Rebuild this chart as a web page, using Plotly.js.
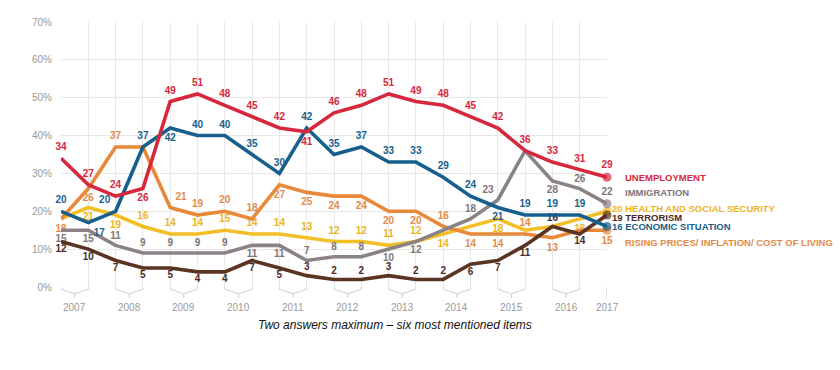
<!DOCTYPE html>
<html><head><meta charset="utf-8">
<script src="https://cdn.plot.ly/plotly-3.0.1.min.js"></script>
<style>html,body{margin:0;padding:0;background:#fff}</style>
</head><body><div id="chart" style="width:840px;height:370px"></div>
<script>
// Survey waves: two per year 2007-2016, one in 2017
const years = ['2007','2008','2009','2010','2011','2012','2013','2014','2015','2016','2017'];
const yTicks = [0,10,20,30,40,50,60,70];

const unemployment = [34,27,24,26,49,51,48,45,42,41,46,48,51,49,48,45,42,36,33,31,29];
const immigration  = [15,15,11,9,9,9,9,11,11,7,8,8,10,12,15,18,23,36,28,26,22];
const health       = [18,21,19,16,14,14,15,14,14,13,12,12,11,12,14,16,18,15,16,18,20];
const terrorism    = [12,10,7,5,5,4,4,7,5,3,2,2,3,2,2,6,7,11,16,14,19];
const economic     = [20,17,20,37,42,40,40,35,30,42,35,37,33,33,29,24,21,19,19,19,16];
const prices       = [18,26,37,37,21,19,20,18,27,25,24,24,20,20,16,14,14,14,13,15,15];

const names = ['UNEMPLOYMENT','IMMIGRATION','HEALTH AND SOCIAL SECURITY','TERRORISM','ECONOMIC SITUATION','RISING PRICES/ INFLATION/ COST OF LIVING'];

// label placement codes (style only); 'N' = value shown next to the series name
const posRed    = 't t t b t t t t t b t t t t t t t t t t t'.split(' ');
const posGrey   = 'b b t t t t t b b t t t b b - t tl - b t t'.split(' ');
const posYellow = '- b b t t t t t t t t t t t b - b - - b N'.split(' ');
const posBrown  = 'b b b b b b b b b t t t t t t b b b t b N'.split(' ');
const posBlue   = 't br tl t b t t t t t t t t t t t b t t t N'.split(' ');
const posOrange = 'b b t - tr t t t b b b b b b t b b t b - b'.split(' ');

const codeMap = {t:'top center', b:'bottom center', tl:'top left', tr:'top right', bl:'bottom left', br:'bottom right', r:'middle right', '-':'top center', N:'top center'};

const FONT = 'Liberation Sans, Arial, sans-serif';
const series = [
  {v: health, pos: posYellow, c:'#f3bf26', tc:'#eeb41c', name: names[2], ny: 3, ms: 7},
  {v: prices, pos: posOrange, c:'#e8893a', tc:'#e58a45', name: names[5], ny: -12, ms: 7},
  {v: immigration, pos: posGrey, c:'#8b8286', tc:'#7f7679', name: names[1], ny: 11, ms: 5},
  {v: terrorism, pos: posBrown, c:'#5a3322', tc:'#4d2c1f', name: names[3], ny: -2, ms: 3},
  {v: economic, pos: posBlue, c:'#175f8c', tc:'#175f8c', name: names[4], ny: 0, ms: 7},
  {v: unemployment, pos: posRed, c:'#d7273c', tc:'#d7273c', name: names[0], ny: 0, ms: 7}
];

const n = unemployment.length;
const xs = unemployment.map((_, i) => i);

const traces = series.map(s => ({
  x: xs, y: s.v, type: 'scatter', mode: 'lines+markers+text',
  line: {color: s.c, width: 3.6},
  marker: {size: s.v.map((_, i) => i === n-1 ? 9 : s.ms),
           color: s.v.map((_, i) => i === n-1 ? s.c : 'rgba(0,0,0,0)'),
           line: {width: 0}},
  text: s.v.map((val, i) => (s.pos[i] === '-' || s.pos[i] === 'N') ? '' : String(val)),
  textposition: s.pos.map(p => codeMap[p]),
  textfont: {family: FONT, size: 10, color: s.tc, weight: 'bold'},
  cliponaxis: false, hoverinfo: 'skip', showlegend: false
}));

const shapes = [];
const annotations = [];
years.forEach((yr, k) => {
  const a = 2*k;
  if (a + 1 < n) {
    shapes.push({type:'path', xref:'x', yref:'paper',
      path:`M ${a},0 L ${a},-0.008 L ${a+0.5},-0.026 L ${a+1},-0.008 L ${a+1},0 M ${a+0.5},-0.026 L ${a+0.5},-0.042`,
      line:{color:'#cfcfcf', width:1}});
    annotations.push({x:a+0.5, xref:'x', y:-0.076, yref:'paper', text:yr, showarrow:false,
      font:{family:FONT, size:10, color:'#9a9a9a'}, yanchor:'middle'});
  } else {
    shapes.push({type:'line', xref:'x', yref:'paper', x0:a, x1:a, y0:0, y1:-0.045,
      line:{color:'#cfcfcf', width:1}});
    annotations.push({x:a, xref:'x', y:-0.076, yref:'paper', text:yr, showarrow:false,
      font:{family:FONT, size:10, color:'#9a9a9a'}, yanchor:'middle'});
  }
});

series.forEach(s => {
  const withValue = s.pos[n-1] === 'N';
  annotations.push({x: n-1, xref:'x', y: s.v[n-1], yref:'y',
    text: withValue ? `<b>${s.v[n-1]} ${s.name}</b>` : `<b>${s.name}</b>`,
    showarrow:false, xanchor:'left', yanchor:'middle', xshift: withValue ? 4 : 17, yshift: s.ny,
    borderpad: 0,
    font:{family:FONT, size:9.5, color:s.tc}});
});

annotations.push({x:0.612, xref:'paper', y:-0.143, yref:'paper',
  text:'<i>Two answers maximum – six most mentioned items</i>', showarrow:false,
  font:{family:FONT, size:12, color:'#111'}, yanchor:'middle'});

const layout = {
  width: 840, height: 370,
  margin: {l:61, r:233, t:22, b:83},
  paper_bgcolor:'#fff', plot_bgcolor:'#fff',
  xaxis: {range:[0, n-1], tickvals: xs, showticklabels:false, showgrid:true,
          gridcolor:'#e8e8e8', gridwidth:1, zeroline:false, showline:false, ticks:''},
  yaxis: {range:[0,70], tickvals: yTicks, ticktext: yTicks.map(t => t + '%'),
          showgrid:true, gridcolor:'#e8e8e8', zeroline:false, showline:false, ticks:'',
          ticklabelstandoff: 8,
          tickfont:{family:FONT, size:10, color:'#999'}},
  shapes: shapes, annotations: annotations, showlegend:false
};

Plotly.newPlot('chart', traces, layout, {displayModeBar:false, staticPlot:true});
</script></body></html>
